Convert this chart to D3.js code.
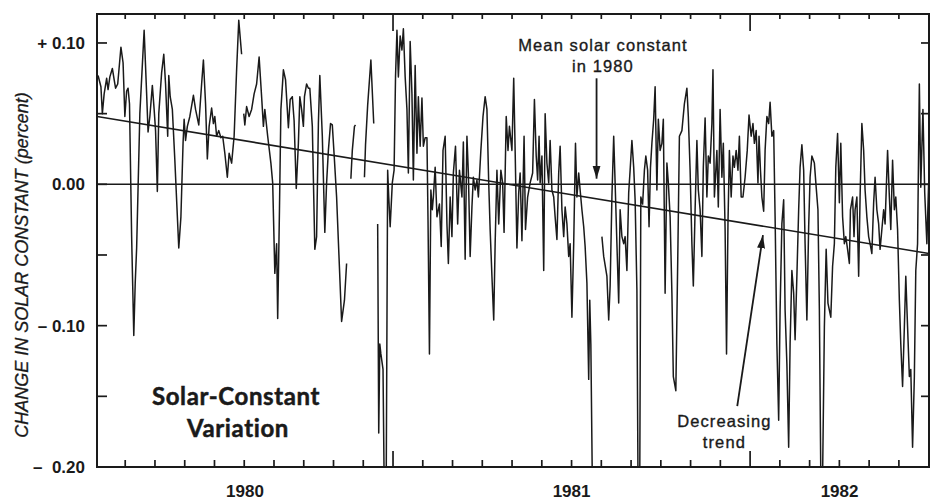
<!DOCTYPE html>
<html>
<head>
<meta charset="utf-8">
<script src="https://cdn.jsdelivr.net/npm/d3@7"></script>
<style>
  body { margin: 0; background: #fff; }
  svg { display: block; font-family: "Liberation Sans", Arial, sans-serif; }
</style>
</head>
<body>
<div id="chart"></div>
<script>
// change in solar constant (percent) vs. time (fractional year)
// one array per stretch of observations, gaps between them
const obs1 = [[1980.174,0.077],[1980.182,0.069],[1980.186,0.050],[1980.191,0.064],[1980.198,0.075],[1980.202,0.067],[1980.207,0.076],[1980.214,0.082],[1980.219,0.074],[1980.223,0.068],[1980.229,0.071],[1980.238,0.097],[1980.244,0.086],[1980.249,0.048],[1980.254,0.066],[1980.258,0.068],[1980.262,0.057],[1980.268,-0.037],[1980.274,-0.107],[1980.278,-0.070],[1980.282,-0.045],[1980.291,0.050],[1980.303,0.109],[1980.310,0.064],[1980.314,0.037],[1980.319,0.048],[1980.326,0.070],[1980.331,0.053],[1980.335,0.038],[1980.340,-0.005],[1980.344,0.050],[1980.352,0.079],[1980.358,0.092],[1980.363,0.071],[1980.369,0.034],[1980.372,0.077],[1980.376,0.062],[1980.382,0.053],[1980.389,0.017],[1980.400,-0.045],[1980.406,-0.023],[1980.412,0.029],[1980.415,0.046],[1980.419,0.031],[1980.424,0.041],[1980.431,0.048],[1980.441,0.063],[1980.447,0.053],[1980.456,0.042],[1980.464,0.071],[1980.469,0.088],[1980.475,0.057],[1980.480,0.018],[1980.485,0.041],[1980.492,0.054],[1980.497,0.043],[1980.501,0.048],[1980.506,0.034],[1980.512,0.038],[1980.518,0.033],[1980.523,0.034],[1980.529,0.022],[1980.536,0.005],[1980.541,0.022],[1980.548,0.015],[1980.555,0.034],[1980.562,0.081],[1980.568,0.116],[1980.576,0.092]]
const obs2 = [[1980.582,0.050],[1980.585,0.042],[1980.590,0.055],[1980.597,0.048],[1980.604,0.053],[1980.611,0.064],[1980.618,0.071],[1980.625,0.090],[1980.632,0.062],[1980.637,0.041],[1980.641,0.053],[1980.649,0.034],[1980.658,0.015],[1980.663,0.001],[1980.669,-0.063],[1980.674,-0.042],[1980.677,-0.095],[1980.682,-0.018],[1980.686,0.053],[1980.693,0.081],[1980.699,0.074],[1980.707,0.040],[1980.712,0.060],[1980.718,0.062],[1980.723,0.045],[1980.729,-0.003],[1980.735,0.029],[1980.739,0.062],[1980.744,0.053],[1980.749,0.041],[1980.752,0.062],[1980.758,0.071],[1980.763,0.068],[1980.767,0.068],[1980.774,0.041],[1980.781,-0.046],[1980.786,-0.037],[1980.791,0.043],[1980.795,0.077],[1980.802,0.034],[1980.809,-0.034],[1980.814,0.001],[1980.819,0.024],[1980.825,0.043],[1980.830,0.042],[1980.836,0.017],[1980.842,-0.009],[1980.856,-0.097],[1980.864,-0.082],[1980.870,-0.056]]
const obs3 = [[1980.882,0.004],[1980.886,0.024],[1980.892,0.041],[1980.895,0.042]]
const obs4 = [[1980.920,0.005],[1980.923,0.028],[1980.929,0.056],[1980.938,0.088],[1980.946,0.043]]
const obs5 = [[1980.957,-0.028],[1980.960,-0.176],[1980.963,-0.113],[1980.966,-0.120],[1980.972,-0.131],[1980.975,-0.207],[1980.981,-0.207],[1980.985,0.010],[1980.988,-0.009],[1980.992,-0.030],[1980.998,0.001],[1981.003,0.010],[1981.007,0.076],[1981.011,0.109],[1981.015,0.076],[1981.020,0.105],[1981.025,0.095],[1981.029,0.110],[1981.034,0.076],[1981.039,0.053],[1981.043,0.008],[1981.048,0.101],[1981.053,0.064],[1981.057,0.003],[1981.062,0.084],[1981.067,0.022],[1981.071,0.062],[1981.076,0.027],[1981.081,0.061],[1981.085,0.027],[1981.090,0.033],[1981.095,0.033],[1981.098,-0.025],[1981.102,-0.120],[1981.106,-0.004],[1981.110,-0.018],[1981.113,-0.009],[1981.118,0.012],[1981.123,-0.023],[1981.130,-0.014],[1981.135,-0.044],[1981.140,0.024],[1981.146,0.034],[1981.151,-0.028],[1981.155,-0.056],[1981.160,-0.009],[1981.165,-0.037],[1981.169,0.008],[1981.175,0.027],[1981.181,-0.028],[1981.186,0.010],[1981.193,-0.009],[1981.197,0.030],[1981.202,-0.053],[1981.207,0.034],[1981.211,0.008],[1981.216,-0.051],[1981.221,-0.016],[1981.225,0.005],[1981.230,-0.004],[1981.235,0.003],[1981.239,-0.009],[1981.246,0.024],[1981.252,0.048],[1981.258,0.062],[1981.263,0.053],[1981.268,0.001],[1981.272,-0.032],[1981.277,-0.065],[1981.282,-0.096],[1981.286,-0.042],[1981.291,0.010],[1981.296,-0.028],[1981.302,0.010],[1981.307,0.001],[1981.311,-0.034],[1981.317,0.048],[1981.322,0.024],[1981.326,0.041],[1981.333,0.024],[1981.338,0.075],[1981.342,0.024],[1981.347,-0.045],[1981.352,-0.006],[1981.356,0.008],[1981.361,-0.040],[1981.367,0.034],[1981.371,-0.032],[1981.377,-0.009],[1981.384,0.001],[1981.391,0.008],[1981.396,0.060],[1981.401,0.020],[1981.405,0.003],[1981.409,0.034],[1981.412,0.001],[1981.417,0.020],[1981.422,-0.061],[1981.426,0.050],[1981.431,0.015],[1981.436,0.001],[1981.440,0.031],[1981.445,-0.004],[1981.450,-0.009],[1981.454,-0.023],[1981.459,-0.039],[1981.464,0.008],[1981.468,0.027],[1981.473,-0.018],[1981.478,-0.037],[1981.482,-0.016],[1981.487,-0.028],[1981.492,-0.051],[1981.496,-0.042],[1981.501,-0.094],[1981.506,-0.042],[1981.511,0.029],[1981.515,-0.009],[1981.520,0.008],[1981.524,-0.004],[1981.529,-0.018],[1981.534,-0.030],[1981.538,-0.044],[1981.543,-0.070],[1981.548,-0.138],[1981.551,-0.082],[1981.554,-0.113],[1981.558,-0.207]]
const obs6 = [[1981.585,-0.037],[1981.590,-0.051],[1981.599,-0.065],[1981.604,-0.096],[1981.608,-0.072],[1981.613,-0.009],[1981.618,0.034],[1981.622,0.001],[1981.627,-0.042],[1981.632,-0.084],[1981.636,-0.018],[1981.641,-0.037],[1981.646,-0.042],[1981.650,-0.037],[1981.655,-0.061],[1981.660,-0.006],[1981.664,0.010],[1981.669,0.031],[1981.674,0.012],[1981.678,-0.011],[1981.683,-0.075],[1981.686,-0.207],[1981.691,-0.207],[1981.694,-0.009],[1981.699,-0.014],[1981.704,0.010],[1981.708,0.020],[1981.713,0.010],[1981.717,-0.030],[1981.721,0.012],[1981.725,0.029],[1981.730,0.046],[1981.734,0.069],[1981.739,-0.004],[1981.743,0.046],[1981.748,0.024],[1981.753,0.029],[1981.757,0.046],[1981.762,-0.077],[1981.767,0.015],[1981.771,0.001],[1981.776,-0.023],[1981.781,-0.077],[1981.785,-0.136],[1981.792,-0.146],[1981.798,-0.042],[1981.802,0.034],[1981.809,0.038],[1981.816,0.057],[1981.823,0.068],[1981.827,0.048],[1981.832,0.010],[1981.837,-0.042],[1981.841,-0.072],[1981.846,-0.018],[1981.851,0.031],[1981.855,-0.004],[1981.860,-0.018],[1981.865,-0.051],[1981.869,0.012],[1981.874,0.047],[1981.879,-0.009],[1981.883,0.020],[1981.888,0.015],[1981.893,0.043],[1981.896,0.081],[1981.900,-0.009],[1981.907,0.024],[1981.911,-0.016],[1981.916,0.053],[1981.921,0.005],[1981.925,0.029],[1981.930,-0.032],[1981.934,-0.120],[1981.938,-0.028],[1981.942,0.024],[1981.947,-0.009],[1981.952,0.020],[1981.956,0.012],[1981.961,0.024],[1981.966,0.010],[1981.970,0.034],[1981.975,-0.009],[1981.980,-0.009],[1981.986,0.005],[1981.992,0.024],[1981.997,0.049],[1982.003,0.034],[1982.008,0.043],[1982.012,0.029],[1982.017,0.038],[1982.022,0.001],[1982.025,0.034],[1982.029,0.010],[1982.033,-0.009],[1982.038,-0.019],[1982.042,0.024],[1982.047,0.048],[1982.052,0.043],[1982.056,0.058],[1982.061,0.034],[1982.066,0.038],[1982.070,-0.023],[1982.075,-0.113],[1982.080,-0.167],[1982.084,-0.089],[1982.089,-0.028],[1982.094,-0.011],[1982.098,-0.089],[1982.103,-0.127],[1982.108,-0.186],[1982.112,-0.113],[1982.117,-0.061],[1982.122,-0.077],[1982.126,-0.110],[1982.131,-0.065],[1982.136,-0.018],[1982.140,0.012],[1982.145,0.028],[1982.150,0.010],[1982.154,-0.042],[1982.159,-0.096],[1982.164,-0.030],[1982.168,0.005],[1982.173,0.020],[1982.180,0.015],[1982.185,-0.002],[1982.190,-0.018],[1982.194,-0.089],[1982.198,-0.207],[1982.203,-0.207],[1982.208,-0.101],[1982.213,-0.046],[1982.218,-0.084],[1982.222,-0.089],[1982.226,-0.094],[1982.231,-0.058],[1982.236,-0.042],[1982.240,0.012],[1982.245,0.036],[1982.250,-0.013],[1982.254,0.029],[1982.259,-0.023],[1982.264,-0.042],[1982.268,-0.037],[1982.273,-0.046],[1982.278,-0.056],[1982.281,-0.018],[1982.287,-0.009],[1982.291,-0.037],[1982.294,-0.018],[1982.299,-0.009],[1982.304,-0.065],[1982.308,-0.009],[1982.313,0.043],[1982.318,0.024],[1982.322,-0.004],[1982.327,-0.023],[1982.332,-0.037],[1982.336,-0.042],[1982.341,-0.049],[1982.346,-0.013],[1982.350,0.005],[1982.355,-0.018],[1982.360,-0.028],[1982.364,-0.046],[1982.369,-0.032],[1982.374,-0.018],[1982.378,-0.028],[1982.385,0.024],[1982.390,-0.009],[1982.394,-0.032],[1982.399,0.017],[1982.404,-0.018],[1982.408,-0.009],[1982.413,-0.032],[1982.418,-0.082],[1982.422,-0.113],[1982.427,-0.143],[1982.432,-0.101],[1982.436,-0.065],[1982.441,-0.101],[1982.446,-0.136],[1982.450,-0.131],[1982.455,-0.186],[1982.460,-0.136],[1982.464,-0.061],[1982.469,-0.042],[1982.474,0.071],[1982.478,-0.002],[1982.484,0.053],[1982.489,-0.006],[1982.495,-0.042],[1982.500,0.001]]

const trend = [[1980.171, 0.048], [1982.501, -0.049]]
const meanLevel = 0.00

const yMajor = [0.10, 0.00, -0.10, -0.20]
const yLabels = ['+ 0.10', '0.00', '\u2013 0.10', '\u2013  0.20']
const yMinor = [0.05, -0.05, -0.15]
const years = [1980, 1981, 1982]

const width = 930
const height = 501

const x = d3.scaleLinear().domain([1980.171, 1982.501]).range([97, 929])
const y = d3.scaleLinear().domain([-0.20, 0.1205]).range([467, 14])

const [x0, x1] = x.range()
const [y0, y1] = y.range()

const svg = d3.select('#chart')
  .append('svg')
  .attr('width', width)
  .attr('height', height)

svg.append('rect').attr('width', width).attr('height', height).attr('fill', '#fff')

const defs = svg.append('defs')
defs.append('clipPath').attr('id', 'plot')
  .append('rect')
  .attr('x', x0).attr('y', y1)
  .attr('width', x1 - x0).attr('height', y0 - y1)

defs.append('marker')
  .attr('id', 'head')
  .attr('viewBox', '0 0 13 9')
  .attr('refX', 13).attr('refY', 4.5)
  .attr('markerWidth', 13).attr('markerHeight', 9)
  .attr('markerUnits', 'userSpaceOnUse')
  .attr('orient', 'auto')
  .append('path')
  .attr('d', 'M0,0.5L13,4.5L0,8.5Z')
  .attr('fill', '#1a1a1a')

const ink = '#1a1a1a'

// data
const plot = svg.append('g').attr('clip-path', 'url(#plot)')
const line = d3.line().x(d => x(d[0])).y(d => y(d[1]))

plot.selectAll('path.obs')
  .data([obs1, obs2, obs3, obs4, obs5, obs6])
  .join('path')
  .attr('class', 'obs')
  .attr('d', line)
  .attr('fill', 'none')
  .attr('stroke', ink)
  .attr('stroke-width', 1.5)
  .attr('stroke-linejoin', 'round')

// mean 1980 level and fitted trend
plot.append('line')
  .attr('x1', x0).attr('x2', x1)
  .attr('y1', y(meanLevel)).attr('y2', y(meanLevel))
  .attr('stroke', ink).attr('stroke-width', 1.6)

plot.append('path')
  .attr('d', line(trend))
  .attr('stroke', ink).attr('stroke-width', 1.6).attr('fill', 'none')

// frame
svg.append('rect')
  .attr('x', x0).attr('y', y1)
  .attr('width', x1 - x0).attr('height', y0 - y1)
  .attr('fill', 'none').attr('stroke', ink).attr('stroke-width', 2)

// month ticks, longer at the start of each year
const monthTicks = d3.range(0, 40).map(i => 1980 + i / 12)
  .filter(t => x(t) > x0 + 5 && x(t) < x1 - 3)
const isYear = t => Math.abs(t - Math.round(t)) < 1e-6

svg.append('g').selectAll('line').data(monthTicks).join('line')
  .attr('x1', d => x(d)).attr('x2', d => x(d))
  .attr('y1', y0).attr('y2', d => y0 - (isYear(d) ? 16 : 7))
  .attr('stroke', ink).attr('stroke-width', 1.7)

svg.append('g').selectAll('line').data(monthTicks).join('line')
  .attr('x1', d => x(d)).attr('x2', d => x(d))
  .attr('y1', y1).attr('y2', d => y1 + (isYear(d) ? 17 : 5))
  .attr('stroke', ink).attr('stroke-width', 1.7)

// y ticks, left and right
svg.append('g').selectAll('line').data(yMajor.concat(yMinor)).join('line')
  .attr('x1', x0).attr('x2', x0 + 10)
  .attr('y1', d => y(d)).attr('y2', d => y(d))
  .attr('stroke', ink).attr('stroke-width', 1.7)

svg.append('g').selectAll('line').data(yMajor.concat(yMinor)).join('line')
  .attr('x1', x1).attr('x2', x1 - 8)
  .attr('y1', d => y(d)).attr('y2', d => y(d))
  .attr('stroke', ink).attr('stroke-width', 1.7)

svg.append('g').selectAll('text').data(yMajor).join('text')
  .attr('x', 85)
  .attr('y', d => y(d) + 6)
  .attr('text-anchor', 'end')
  .attr('font-size', 17)
  .attr('font-weight', 'bold')
  .attr('fill', ink)
  .attr('xml:space', 'preserve')
  .style('white-space', 'pre')
  .text((d, i) => yLabels[i])

// year labels centred on the visible part of each year
svg.append('g').selectAll('text').data(years).join('text')
  .attr('x', d => x((Math.max(d, x.domain()[0]) + Math.min(d + 1, x.domain()[1])) / 2))
  .attr('y', 497)
  .attr('text-anchor', 'middle')
  .attr('font-size', 17)
  .attr('font-weight', 'bold')
  .attr('fill', ink)
  .text(d => d)

// axis title
svg.append('text')
  .attr('transform', 'translate(28,265) rotate(-90)')
  .attr('text-anchor', 'middle')
  .attr('font-size', 18)
  .attr('font-style', 'italic')
  .attr('fill', ink)
  .attr('stroke', ink).attr('stroke-width', 0.3)
  .text('CHANGE IN SOLAR CONSTANT (percent)')

// title
const title = svg.append('text')
  .attr('text-anchor', 'middle')
  .attr('font-family', 'Lato, "Open Sans", sans-serif')
  .attr('font-weight', 'bold')
  .attr('font-size', 24)
  .attr('letter-spacing', 0.6)
  .attr('fill', ink)
  .attr('stroke', ink).attr('stroke-width', 0.5)
title.append('tspan').attr('x', 236).attr('y', 405).text('Solar-Constant')
title.append('tspan').attr('x', 238).attr('y', 437).text('Variation')

// annotations
const note = (lines, cx, by) => {
  const t = svg.append('text')
    .attr('text-anchor', 'middle')
    .attr('font-size', 16.5)
    .attr('letter-spacing', 1.1)
    .attr('fill', ink)
    .attr('stroke', ink).attr('stroke-width', 0.35)
  lines.forEach((s, i) => t.append('tspan').attr('x', cx).attr('y', by + i * 20.5).text(s))
}

note(['Mean solar constant', 'in 1980'], x(1981.588), 51)
svg.append('line')
  .attr('x1', x(1981.57)).attr('y1', y(0.075))
  .attr('x2', x(1981.57)).attr('y2', y(0.004))
  .attr('stroke', ink).attr('stroke-width', 1.8)
  .attr('marker-end', 'url(#head)')

note(['Decreasing', 'trend'], x(1981.928), 427)
svg.append('line')
  .attr('x1', x(1981.964)).attr('y1', y(-0.157))
  .attr('x2', x(1982.036)).attr('y2', y(-0.036))
  .attr('stroke', ink).attr('stroke-width', 1.8)
  .attr('marker-end', 'url(#head)')
</script>
</body>
</html>
